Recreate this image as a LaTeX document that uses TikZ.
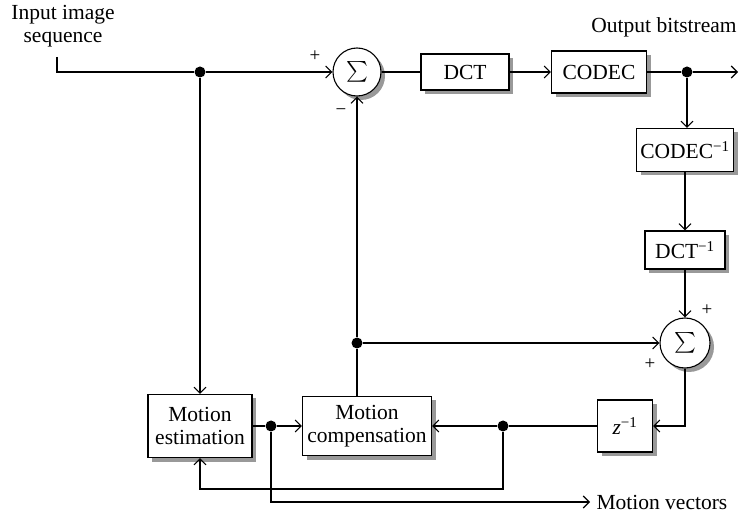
\documentclass[tikz,border=0pt]{standalone}
\usepackage{exscale}
\usepackage{fontspec}
\setmainfont{Liberation Serif}
\usetikzlibrary{arrows.meta,shadows}
\newcommand{\inv}{\textsuperscript{\char"2212 1}}
\begin{document}
\begin{tikzpicture}[x=1pt,y=-1pt,
  font=\fontsize{21.5}{23}\selectfont,
  line width=1.1pt,
  >={Straight Barb[length=6pt,width=12pt,line width=1.1pt]},
  shad/.style={drop shadow={shadow xshift=4pt,shadow yshift=-4pt,fill=black!40,opacity=1}},
  block/.style={draw, fill=white, shad, inner sep=0pt, align=center},
  sumnode/.style={draw, fill=white, circle, shad, inner sep=0pt, minimum size=48pt},
  dot/.style={circle, fill=black, inner sep=0pt, minimum size=11pt},
  lbl/.style={inner sep=0pt, align=center},
  sign/.style={inner sep=0pt, font=\fontsize{19}{19}\selectfont}]
\useasboundingbox (0,0) rectangle (740,513);

% summing junctions and blocks
\node[sumnode] (s1) at (357,72) {$\sum$};
\node[block, minimum width=88pt, minimum height=36pt] (dct) at (465,72) {DCT};
\node[block, minimum width=95pt, minimum height=42pt] (codec) at (599,72) {CODEC};
\node[block, minimum width=97pt, minimum height=43pt] (icodec) at (685,150) {CODEC\inv};
\node[block, minimum width=80pt, minimum height=38pt] (idct) at (685,250) {DCT\inv};
\node[sumnode, minimum size=50pt] (s2) at (685,343) {$\sum$};
\node[block, minimum width=55pt, minimum height=52pt] (z) at (625,426) {\textit{z}\inv};
\node[block, minimum width=129pt, minimum height=59pt] (mc) at (367,426) {Motion\\compensation};
\node[block, minimum width=104pt, minimum height=63pt] (me) at (200,426) {Motion\\estimation};

% branch points
\node[dot] (d1) at (200,72) {};
\node[dot] (d2) at (687,72) {};
\node[dot] (d3) at (357,343) {};
\node[dot] (d4) at (271,426) {};
\node[dot] (d5) at (503,426) {};

% free ends
\coordinate (in) at (57,57);
\coordinate (out) at (738,72);
\coordinate (mv) at (590,502);
\coordinate (fb) at (200,489);

% labels
\node[lbl] (tin) at (63,26) {Input image\\sequence};
\node[lbl] (tout) at (664,27) {Output bitstream};
\node[lbl, anchor=west] (tmv) at (596,502) {Motion vectors};
\node[sign] (p1) at (315,56) {+};
\node[sign] (m1) at (341,112) {\char"2212};
\node[sign] (p2) at (707,310) {+};
\node[sign] (p3) at (650,364) {+};

% forward path
\draw (in) |- (d1);
\draw[->] (d1) -- (s1);
\draw (s1) -- (dct);
\draw[->] (dct) -- (codec);
\draw (codec) -- (d2);
\draw[->] (d2) -- (out);
\draw[->] (d2) -- (d2 |- icodec.north);
\draw[->] (icodec) -- (idct);
\draw[->] (idct) -- (s2);

% reconstruction loop
\draw[->] (s2.south) |- (z.east);
\draw (z) -- (d5);
\draw[->] (d5) -- (mc);
\draw[->] (d5) |- (fb) -- (me);
\draw (me) -- (d4);
\draw[->] (d4) -- (mc);
\draw[->] (d4) |- (mv);
\draw (mc.north -| d3) -- (d3);
\draw[->] (d3) -- (s1);
\draw[->] (d3) -- (s2);
\draw[->] (d1) -- (me);
\end{tikzpicture}
\end{document}
